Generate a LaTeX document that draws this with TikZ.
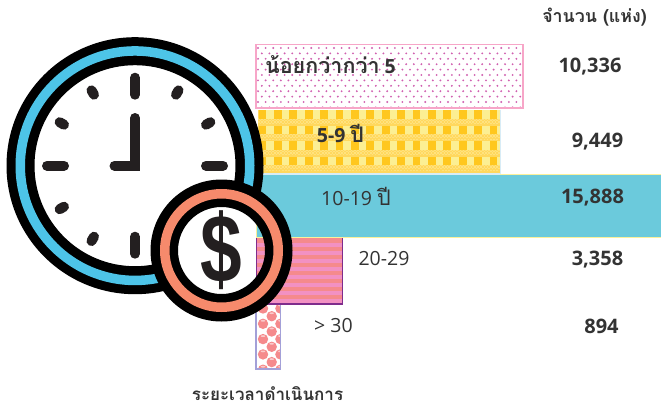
\documentclass[tikz,border=0pt]{standalone}
\usepackage{fontspec}
\usetikzlibrary{calc}
\setmainfont{Open Sans}
\newfontfamily\thaifont[Script=Thai]{Loma}
\newfontfamily\dollarfont{Liberation Sans}
\definecolor{ink}{HTML}{231F20}
\definecolor{txt}{HTML}{333333}
\definecolor{pinkb}{HTML}{F7A6C8}
\definecolor{dotc}{HTML}{D060B0}
\definecolor{yband}{HTML}{FFD85E}
\definecolor{ydark}{HTML}{FFC71E}
\definecolor{ylight}{HTML}{FCEF93}
\definecolor{yfine}{HTML}{FFE27E}
\definecolor{ltblue}{HTML}{D8ECF6}
\definecolor{teal}{HTML}{6BCADC}
\definecolor{yedge}{HTML}{FBF09A}
\definecolor{salmon}{HTML}{F58A8C}
\definecolor{stripep}{HTML}{F291C2}
\definecolor{purp}{HTML}{7F2C8C}
\definecolor{peri}{HTML}{A3A0D8}
\definecolor{skyb}{HTML}{4DC4E8}
\definecolor{coinor}{HTML}{F68A6C}
\newcommand{\thaibig}[1]{{\fontsize{21.5}{24}\selectfont\thaifont #1}}
\tikzset{
  lab/.style={inner sep=0pt,text=txt,font=\fontsize{19.5}{22}\selectfont},
  labb/.style={inner sep=0pt,text=txt,font=\fontsize{19.5}{22}\selectfont\bfseries},
  num/.style={inner sep=0pt,text=txt,font=\fontsize{20}{24}\selectfont\bfseries},
  thaibold/.style={inner sep=0pt,text=txt,font=\thaifont\bfseries},
  clocktick/.style={line width=10pt,line cap=round,draw=ink},
}
\begin{document}
\begin{tikzpicture}[x=1pt,y=-1pt]
\useasboundingbox (0,0) rectangle (661,407);
% bar 1
\fill[white] (256,44.5) rectangle (523,108);
\begin{scope}
\clip (256,44.5) rectangle (523,108);
\foreach \r in {0,...,12}{
  \pgfmathsetmacro\yy{48+\r*5.4}
  \pgfmathsetmacro\xo{258+mod(\r,2)*3.8}
  \foreach \c in {0,...,35}{
    \fill[dotc] ({\xo+\c*7.6},\yy) circle[radius=1.05];
  }
}
\end{scope}
\draw[pinkb,line width=1.6pt] (256,44.5) rectangle (523,108);
% bar 2
\fill[yband] (258,109.5) rectangle (500,174);
\begin{scope}
\clip (258,109.5) rectangle (500,174);
\foreach \r in {0,...,3}{
  \pgfmathsetmacro\yy{110+\r*15.5}
  \foreach \k/\ph in {0/0pt,1/1.6pt,2/0pt,3/1.6pt}{
    \draw[yfine,line width=1.4pt,dash pattern=on 1.6pt off 1.6pt,dash phase=\ph]
      (258,{\yy+8.9+\k*1.6}) -- (500,{\yy+8.9+\k*1.6});
  }
  \foreach \c in {0,...,15}{
    \fill[ydark] ({258.6+\c*15.4},\yy) rectangle ++(7.7,8.7);
    \fill[ylight] ({266.3+\c*15.4},\yy) rectangle ++(7.7,8.7);
  }
}
\end{scope}
\draw[ltblue,line width=1.2pt] (500.5,109.5) -- (500.5,174);
\draw[ltblue,line width=1.2pt] (258,174) -- (500.5,174);
% bar 3
\fill[teal] (256,175) rectangle (661,237);
\draw[yedge,line width=1.4pt] (500,174.3) -- (661,174.3);
\draw[yedge,line width=1.4pt] (256,237.5) -- (661,237.5);
\draw[yedge,line width=1.4pt] (256.3,175) -- (256.3,237.5);
% bar 4
\fill[salmon] (256,238) rectangle (342,304);
\foreach \r in {0,...,7}{
  \fill[stripep] (256,{242.5+\r*8}) rectangle (342,{246.5+\r*8});
}
\draw[purp,line width=1.6pt] (256.5,238) -- (256.5,304) -- (342.5,304) -- (342.5,238);
% bar 5
\fill[white] (256,305) rectangle (280.5,369);
\begin{scope}
\clip (256,305) rectangle (280.5,369);
\foreach \xx/\yo in {263/308.5,271.7/316.2,280.4/308.5}{
  \foreach \r in {0,...,4}{
    \pgfmathsetmacro\yy{\yo+\r*15.3}
    \fill[salmon] (\xx,\yy) circle[radius=5.2];
    \fill[salmon!45!white] (\xx,{\yy-3}) ellipse[x radius=2.3,y radius=0.9];
  }
}
\end{scope}
\draw[peri,line width=1.6pt] (256,304.5) -- (256,369) -- (280.5,369) -- (280.5,304.5);
% clock
\coordinate (cc) at (135,165.7);
\coordinate (mc) at (221.5,250.5);
\fill[white] (cc) circle[radius=101];
\fill[black,even odd rule] (cc) circle[radius=128.5] (cc) circle[radius=100.5];
\fill[skyb,even odd rule] (cc) circle[radius=119.5] (cc) circle[radius=110];
\foreach \a in {0,90,180,270}{
  \draw[clocktick] ($(cc)+(\a:71)$) -- ($(cc)+(\a:88)$);
}
\foreach \a in {300,330,210,240,120,150}{
  \draw[clocktick] ($(cc)+(\a:82)$) -- ($(cc)+(\a:87)$);
}
\draw[clocktick,line join=miter] (135,118) -- (cc) -- (114.5,165.7);
% coin
\begin{scope}
\clip (100,170) rectangle (255.5,330);
\fill[white] (mc) circle[radius=52];
\end{scope}
\fill[black,even odd rule] (mc) circle[radius=71] (mc) circle[radius=43.5];
\fill[coinor,even odd rule] (mc) circle[radius=61.5] (mc) circle[radius=52];
\node[inner sep=0pt,text=ink,font=\fontsize{88}{88}\selectfont\dollarfont\bfseries] (dollar) at (221.5,250) {\scalebox{.85}[1.1]{\$}};
% labels
\node[thaibold,font=\fontsize{17.8}{20}\selectfont\thaifont\bfseries] (hdr) at (594.5,17) {จำนวน (แห่ง)};
\node[labb] (l1) at (330.5,65) {\thaibig{น้อยกว่ากว่า} 5};
\node[labb] (l2) at (340.5,133) {5-9 \thaibig{ปี}};
\node[lab] (l3) at (356,196) {10-19 \thaibig{ปี}};
\node[lab] (l4) at (384,259) {20-29};
\node[lab] (l5) at (333.5,326) {> 30};
\node[thaibold,font=\fontsize{17}{20}\selectfont\thaifont\bfseries] (axis) at (267.5,394) {ระยะเวลาดำเนินการ};
\node[num] (n1) at (590,67) {10,336};
\node[num] (n2) at (597.5,142) {9,449};
\node[num] (n3) at (592.5,198) {15,888};
\node[num] (n4) at (597.5,260) {3,358};
\node[num] (n5) at (601.5,326) {894};
\end{tikzpicture}
\end{document}
